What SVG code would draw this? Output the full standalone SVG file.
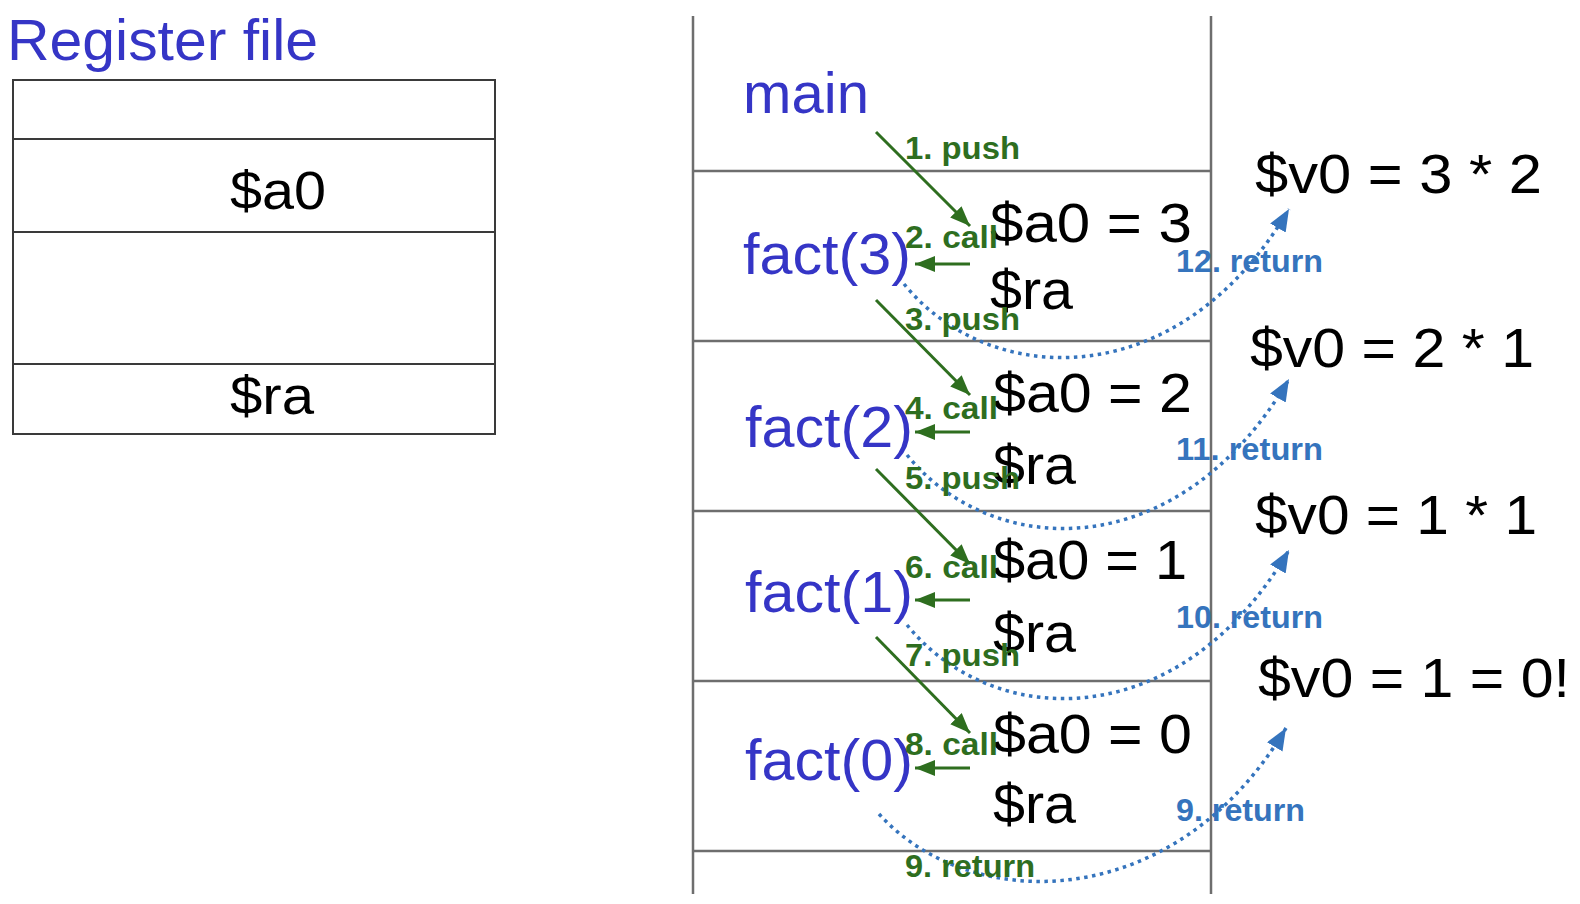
<svg xmlns="http://www.w3.org/2000/svg" width="1580" height="904" viewBox="0 0 1580 904">
<style>
.bg{fill:#ffffff}
.cell{fill:none;stroke:#3a3a3a;stroke-width:2}
.wall{fill:none;stroke:#6e6e6e;stroke-width:2.5}
.title{font-family:"Liberation Sans",Arial,sans-serif;fill:#3535c6}
.blk{font-family:"Liberation Sans",Arial,sans-serif;fill:#000}
.gl{font-family:"Liberation Sans",Arial,sans-serif;font-weight:bold;font-size:32px;fill:#2e6e1f}
.bl{font-family:"Liberation Sans",Arial,sans-serif;font-weight:bold;font-size:32px;fill:#3574bd}
.garrow{fill:none;stroke:#2e6e1f;stroke-width:3}
.barrow{fill:none;stroke:#3574bd;stroke-width:3.5;stroke-dasharray:3.5 4.5}
</style>
<defs>
<marker id="gh" markerUnits="userSpaceOnUse" markerWidth="22" markerHeight="18" refX="20" refY="8" orient="auto">
<path d="M0,0 L20,8 L0,16 z" fill="#2e6e1f"/>
</marker>
<marker id="bh" markerUnits="userSpaceOnUse" markerWidth="24" markerHeight="20" refX="22" refY="9" orient="auto">
<path d="M0,0 L22,9 L0,18 z" fill="#3574bd"/>
</marker>
</defs>
<rect class="bg" x="0" y="0" width="1580" height="904"/>

<g id="register-file">
<text class="title" x="7" y="60" font-size="58" textLength="311" lengthAdjust="spacingAndGlyphs">Register file</text>
<rect class="cell" x="13" y="80" width="482" height="354"/>
<line class="cell" x1="13" y1="139" x2="495" y2="139"/>
<line class="cell" x1="13" y1="232" x2="495" y2="232"/>
<line class="cell" x1="13" y1="364" x2="495" y2="364"/>
<text class="blk" x="230" y="209" font-size="53" textLength="96" lengthAdjust="spacingAndGlyphs">$a0</text>
<text class="blk" x="230" y="414" font-size="53" textLength="84" lengthAdjust="spacingAndGlyphs">$ra</text>
</g>

<g id="stack">
<line class="wall" x1="693" y1="16" x2="693" y2="894"/>
<line class="wall" x1="1211" y1="16" x2="1211" y2="894"/>
<line class="wall" x1="693" y1="171" x2="1211" y2="171"/>
<line class="wall" x1="693" y1="341" x2="1211" y2="341"/>
<line class="wall" x1="693" y1="511" x2="1211" y2="511"/>
<line class="wall" x1="693" y1="681" x2="1211" y2="681"/>
<line class="wall" x1="693" y1="851" x2="1211" y2="851"/>
</g>

<g id="frame-main">
<text class="title" x="743" y="113" font-size="58" textLength="126" lengthAdjust="spacingAndGlyphs">main</text>
</g>

<g id="frame-fact3">
<text class="title" x="743" y="274" font-size="58" textLength="168" lengthAdjust="spacingAndGlyphs">fact(3)</text>
<text class="blk" x="990" y="242" font-size="55" textLength="202" lengthAdjust="spacingAndGlyphs">$a0 = 3</text>
<text class="blk" x="990" y="309" font-size="55" textLength="83" lengthAdjust="spacingAndGlyphs">$ra</text>
</g>

<g id="frame-fact2">
<text class="title" x="745" y="447" font-size="58" textLength="168" lengthAdjust="spacingAndGlyphs">fact(2)</text>
<text class="blk" x="993" y="412" font-size="55" textLength="199" lengthAdjust="spacingAndGlyphs">$a0 = 2</text>
<text class="blk" x="993" y="484" font-size="55" textLength="83" lengthAdjust="spacingAndGlyphs">$ra</text>
</g>

<g id="frame-fact1">
<text class="title" x="745" y="612" font-size="58" textLength="168" lengthAdjust="spacingAndGlyphs">fact(1)</text>
<text class="blk" x="993" y="579" font-size="55" textLength="194" lengthAdjust="spacingAndGlyphs">$a0 = 1</text>
<text class="blk" x="993" y="652" font-size="55" textLength="83" lengthAdjust="spacingAndGlyphs">$ra</text>
</g>

<g id="frame-fact0">
<text class="title" x="745" y="780" font-size="58" textLength="168" lengthAdjust="spacingAndGlyphs">fact(0)</text>
<text class="blk" x="993" y="753" font-size="55" textLength="199" lengthAdjust="spacingAndGlyphs">$a0 = 0</text>
<text class="blk" x="993" y="823" font-size="55" textLength="83" lengthAdjust="spacingAndGlyphs">$ra</text>
</g>

<g id="results">
<text class="blk" x="1255" y="193" font-size="56" textLength="287" lengthAdjust="spacingAndGlyphs">$v0 = 3 * 2</text>
<text class="blk" x="1250" y="367" font-size="56" textLength="284" lengthAdjust="spacingAndGlyphs">$v0 = 2 * 1</text>
<text class="blk" x="1255" y="534" font-size="56" textLength="282" lengthAdjust="spacingAndGlyphs">$v0 = 1 * 1</text>
<text class="blk" x="1258" y="697" font-size="56" textLength="312" lengthAdjust="spacingAndGlyphs">$v0 = 1 = 0!</text>
</g>

<g id="connectors">
<line class="garrow" x1="876" y1="132" x2="970" y2="226" marker-end="url(#gh)"/>
<line class="garrow" x1="970" y1="264" x2="915" y2="264" marker-end="url(#gh)"/>
<line class="garrow" x1="876" y1="300" x2="970" y2="395" marker-end="url(#gh)"/>
<line class="garrow" x1="970" y1="432" x2="915" y2="432" marker-end="url(#gh)"/>
<line class="garrow" x1="876" y1="469" x2="970" y2="564" marker-end="url(#gh)"/>
<line class="garrow" x1="970" y1="600" x2="915" y2="600" marker-end="url(#gh)"/>
<line class="garrow" x1="876" y1="637" x2="970" y2="733" marker-end="url(#gh)"/>
<line class="garrow" x1="970" y1="768" x2="915" y2="768" marker-end="url(#gh)"/>

<path class="barrow" d="M904,284 C990,390 1180,395 1289,209" marker-end="url(#bh)"/>
<path class="barrow" d="M907,455 C993,561 1180,566 1289,379" marker-end="url(#bh)"/>
<path class="barrow" d="M907,625 C993,731 1180,736 1289,550" marker-end="url(#bh)"/>
<path class="barrow" d="M879,814 C970,915 1175,915 1286,728" marker-end="url(#bh)"/>

<text class="gl" x="905" y="159" textLength="115" lengthAdjust="spacingAndGlyphs">1. push</text>
<text class="gl" x="905" y="248" textLength="93" lengthAdjust="spacingAndGlyphs">2. call</text>
<text class="gl" x="905" y="330" textLength="115" lengthAdjust="spacingAndGlyphs">3. push</text>
<text class="gl" x="905" y="419" textLength="93" lengthAdjust="spacingAndGlyphs">4. call</text>
<text class="gl" x="905" y="489" textLength="115" lengthAdjust="spacingAndGlyphs">5. push</text>
<text class="gl" x="905" y="578" textLength="93" lengthAdjust="spacingAndGlyphs">6. call</text>
<text class="gl" x="905" y="666" textLength="115" lengthAdjust="spacingAndGlyphs">7. push</text>
<text class="gl" x="905" y="755" textLength="93" lengthAdjust="spacingAndGlyphs">8. call</text>
<text class="gl" x="905" y="877" textLength="130" lengthAdjust="spacingAndGlyphs">9. return</text>

<text class="bl" x="1176" y="272" textLength="147" lengthAdjust="spacingAndGlyphs">12. return</text>
<text class="bl" x="1176" y="460" textLength="147" lengthAdjust="spacingAndGlyphs">11. return</text>
<text class="bl" x="1176" y="628" textLength="147" lengthAdjust="spacingAndGlyphs">10. return</text>
<text class="bl" x="1176" y="821" textLength="129" lengthAdjust="spacingAndGlyphs">9. return</text>
</g>
</svg>
